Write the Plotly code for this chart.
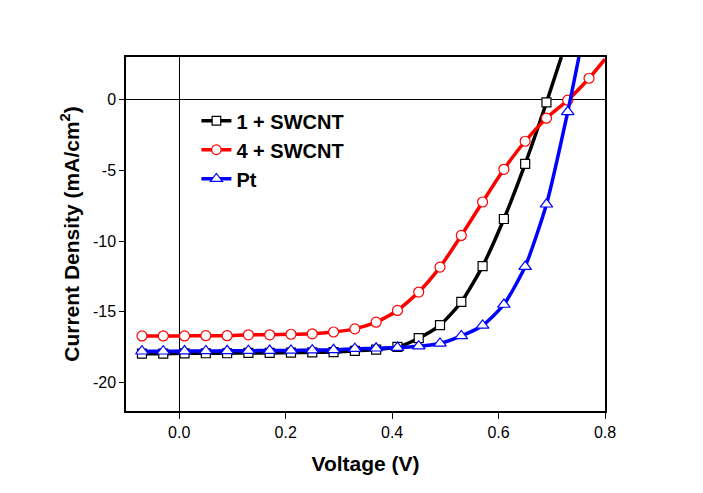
import plotly.graph_objects as go

# Voltage (V) at marker positions, plus the final unmarked point where the curve leaves the frame
v_black = [-0.07, -0.03, 0.01, 0.05, 0.09, 0.13, 0.17, 0.21, 0.25, 0.29, 0.33, 0.37, 0.41, 0.45, 0.49, 0.53, 0.57, 0.61, 0.65, 0.69, 0.718]
j_black = [-17.95, -17.95, -17.93, -17.92, -17.92, -17.9, -17.9, -17.88, -17.86, -17.84, -17.75, -17.66, -17.47, -16.86, -15.94, -14.3, -11.77, -8.44, -4.55, -0.21, 3.0]

v_red = [-0.07, -0.03, 0.01, 0.05, 0.09, 0.13, 0.17, 0.21, 0.25, 0.29, 0.33, 0.37, 0.41, 0.45, 0.49, 0.53, 0.57, 0.61, 0.65, 0.69, 0.73, 0.77, 0.80]
j_red = [-16.7, -16.7, -16.7, -16.68, -16.68, -16.62, -16.62, -16.58, -16.55, -16.42, -16.2, -15.73, -14.9, -13.6, -11.84, -9.6, -7.24, -4.93, -2.95, -1.32, -0.05, 1.5, 2.85]

v_blue = [-0.07, -0.03, 0.01, 0.05, 0.09, 0.13, 0.17, 0.21, 0.25, 0.29, 0.33, 0.37, 0.41, 0.45, 0.49, 0.53, 0.57, 0.61, 0.65, 0.69, 0.73, 0.751]
j_blue = [-17.78, -17.78, -17.77, -17.76, -17.75, -17.74, -17.73, -17.72, -17.7, -17.68, -17.6, -17.57, -17.52, -17.42, -17.23, -16.7, -15.96, -14.48, -11.8, -7.4, -0.87, 3.0]

names = ["1 + SWCNT", "4 + SWCNT", "Pt"]
x_ticks = [0.0, 0.2, 0.4, 0.6, 0.8]
x_ticktext = ["0.0", "0.2", "0.4", "0.6", "0.8"]
y_ticks = [0, -5, -10, -15, -20]
y_ticktext = ["0", "-5", "-10", "-15", "-20"]

fig = go.Figure()
series = [
    (v_black, j_black, names[0], "black", "square", 9),
    (v_red, j_red, names[1], "red", "circle", 10),
    (v_blue, j_blue, names[2], "blue", "triangle-up", 11),
]
for vx, jy, nm, col, sym, ms in series:
    n = len(vx)
    sizes = [ms] * (n - 1) + [0]
    fig.add_trace(go.Scatter(
        x=vx, y=jy, name=nm, mode="lines+markers",
        line=dict(color=col, width=3.5, shape="spline", smoothing=0.6),
        marker=dict(symbol=sym, size=sizes, color="white", opacity=1,
                    line=dict(color=col, width=1.2)),
    ))

font_family = "Arial, Liberation Sans, sans-serif"
# the page body adds an 8px offset, compensated in the margins
fig.update_layout(
    width=703, height=493,
    margin=dict(l=118, r=106, t=49, b=90, autoexpand=False),
    paper_bgcolor="white", plot_bgcolor="white",
    font=dict(family=font_family, color="black"),
    showlegend=True,
    legend=dict(
        x=0.147, y=0.875, xanchor="left", yanchor="top",
        font=dict(size=20, family=font_family, color="black", weight="bold"),
        bgcolor="rgba(0,0,0,0)", tracegroupgap=0,
    ),
)
fig.update_xaxes(
    range=[-0.1, 0.8], tickvals=x_ticks, ticktext=x_ticktext,
    showgrid=False, showline=True, linecolor="black", linewidth=1.5, mirror=True,
    ticks="outside", ticklen=6, tickwidth=1, tickcolor="black",
    tickfont=dict(size=16), automargin=False,
    zeroline=True, zerolinecolor="black", zerolinewidth=1,
    title=dict(text="Voltage (V)", font=dict(size=21, weight="bold"), standoff=16),
)
fig.update_yaxes(
    range=[-22, 3], tickvals=y_ticks, ticktext=y_ticktext,
    showgrid=False, showline=True, linecolor="black", linewidth=1.5, mirror=True,
    ticks="outside", ticklen=5, tickwidth=1, tickcolor="black",
    tickfont=dict(size=16), automargin=False,
    zeroline=True, zerolinecolor="black", zerolinewidth=1,
    title=dict(text="Current Density (mA/cm<sup>2</sup>)", font=dict(size=21, weight="bold"), standoff=8),
)

fig.write_html("out.html")
